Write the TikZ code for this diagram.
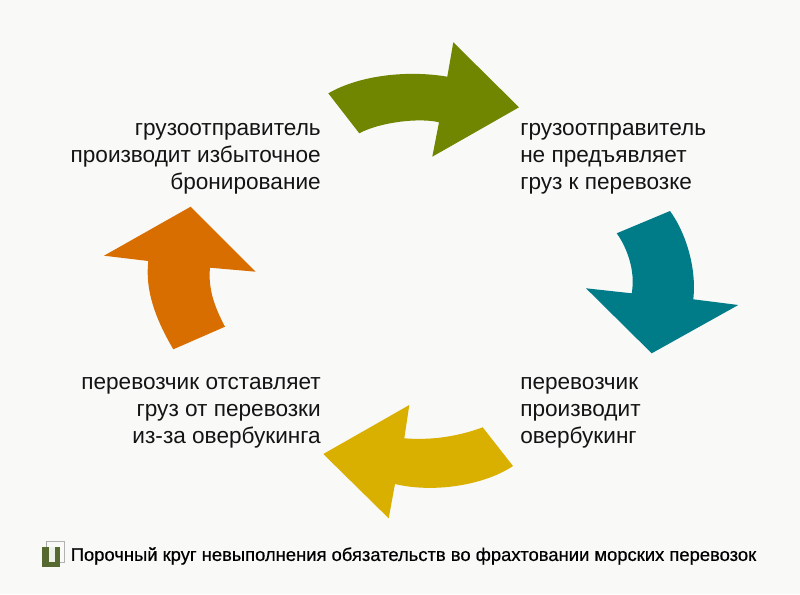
\documentclass[tikz,border=0pt]{standalone}
\usepackage{fontspec}
\setmainfont{Liberation Sans}
\definecolor{bgc}{HTML}{F9F9F8}
\definecolor{cgreen}{HTML}{708500}
\definecolor{cteal}{HTML}{007C89}
\definecolor{cyellow}{HTML}{DAB000}
\definecolor{corange}{HTML}{D86D00}
\definecolor{ciconbox}{HTML}{56692F}
\tikzset{
  lbl/.style={inner sep=0pt,font=\fontsize{16.95}{20.25}\selectfont,text=black!92},
  lblL/.style={lbl,align=left,anchor=west},
  lblR/.style={lbl,align=right,anchor=east},
  captext/.style={inner sep=0pt,anchor=west,font=\fontsize{13.8}{16}\selectfont,text=black}
}
\begin{document}
\begin{tikzpicture}[x=0.75pt,y=-0.75pt]
\useasboundingbox[fill=bgc] (0,0) rectangle (800,594);
% green arrow
\fill[cgreen] (328.3,93.3) .. controls (360,75) and (408,70) .. (447.3,76.7)
  -- (453.3,42.3) -- (519,107.3) -- (432.3,156.7) -- (439,122.3)
  .. controls (420,117.5) and (380,122) .. (359.3,133.3) -- cycle;
% teal arrow
\fill[cteal] (670,211) .. controls (684,230) and (697,265) .. (693.3,299.3)
  -- (738.3,305) -- (651.7,353.3) -- (586,288.3) -- (631.7,293.3)
  .. controls (636,270) and (626,246) .. (616.7,233.3) -- cycle;
% yellow arrow
\fill[cyellow] (482.7,427.3) .. controls (458,436.5) and (431,440.5) .. (404.3,438.3)
  -- (409.3,405) -- (323.3,454) -- (388.7,518.3) -- (395,484)
  .. controls (432,493) and (483,486) .. (513,466) -- cycle;
% orange arrow
\fill[corange] (173.3,349.3) .. controls (155,318) and (145,290) .. (148.3,261)
  -- (104,255.7) -- (190.7,206.7) -- (255.7,271.7) -- (210,267.7)
  .. controls (208,288) and (214,306) .. (225,326.7) -- cycle;
% texts
\node[lblR] (tl) at (321,159) {грузоотправитель\\производит избыточное\\бронирование};
\node[lblL] (tr) at (520,159) {грузоотправитель\\не предъявляет\\груз к перевозке};
\node[lblL] (br) at (520,413) {перевозчик\\производит\\овербукинг};
\node[lblR] (bl) at (321,413) {перевозчик отставляет\\груз от перевозки\\из-за овербукинга};
% icon
\draw[black!35,line width=0.6pt,fill=bgc] (46.5,541.5) rectangle (64.5,562);
\fill[ciconbox] (42,546.5) rectangle (60,566.5);
\fill[white!90!ciconbox] (49,546.5) rectangle (54.5,561.5);
\draw[black!30,line width=0.5pt] (46.5,541.5) -- (64.5,541.5) -- (64.5,562) -- (60,562);
\node[captext] (caption) at (70.5,556) {\addfontfeatures{FakeBold=0.5}Порочный круг невыполнения обязательств во фрахтовании морских перевозок};
\end{tikzpicture}
\end{document}
